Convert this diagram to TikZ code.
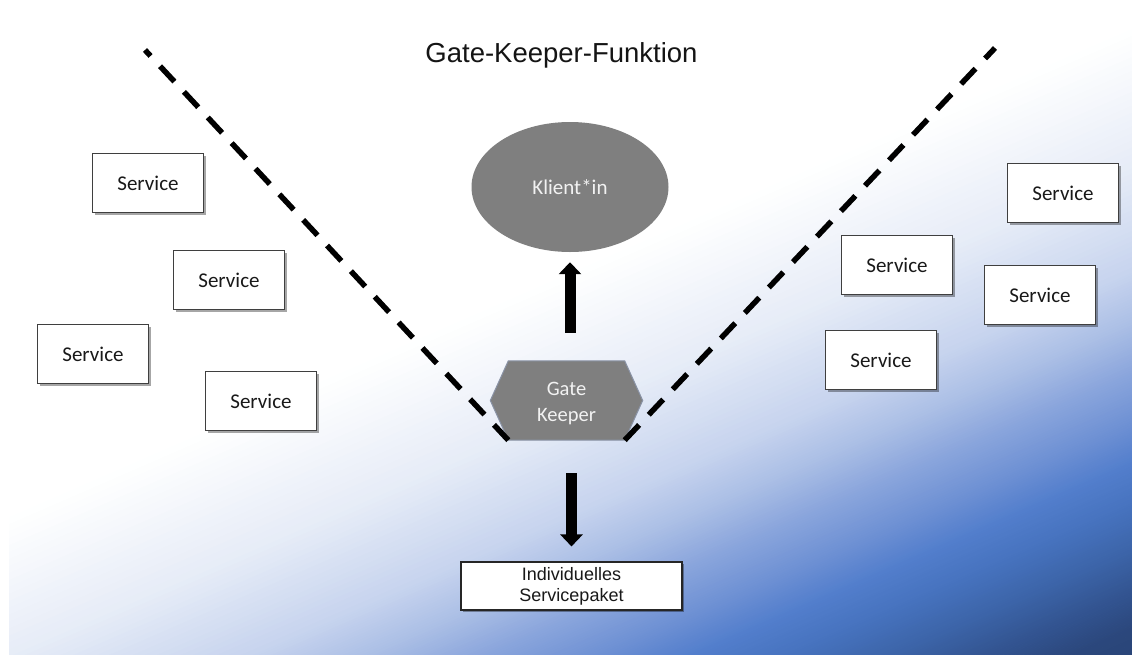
\documentclass[tikz,border=0pt]{standalone}
\usepackage{fontspec}
\newfontfamily\calibfont{Carlito}
\newfontfamily\arialfont{Liberation Sans}
\usetikzlibrary{arrows.meta,shapes.geometric,shadows,calc}
\pgfdeclarelayer{bg}
\pgfdeclarelayer{back}
\pgfsetlayers{bg,back,main}

% colour stops of the slide background (white -> blue)
\definecolor{g1}{HTML}{FFFFFF}
\definecolor{g2}{HTML}{E6ECF7}
\definecolor{g3}{HTML}{C6D3EE}
\definecolor{g4}{HTML}{AABEE5}
\definecolor{g5}{HTML}{8AA5DC}
\definecolor{g6}{HTML}{6F91D4}
\definecolor{g7}{HTML}{527ECC}
\definecolor{g8}{HTML}{4672BE}
\definecolor{g9}{HTML}{3C64A8}
\definecolor{g10}{HTML}{32538F}
\definecolor{g11}{HTML}{2B477C}
\definecolor{g12}{HTML}{25406F}
\definecolor{shapegray}{HTML}{7F7F7F}
\definecolor{hexborder}{HTML}{8A93A6}
\definecolor{boxborder}{HTML}{3F3F3F}
\definecolor{lighttext}{HTML}{F2F2F2}

\begin{document}
\begin{tikzpicture}[x=1pt,y=-1pt,
  svcbox/.style={draw=boxborder, line width=1.1pt, fill=white,
    minimum width=111pt, minimum height=59pt, inner sep=0pt,
    font=\calibfont\fontsize{21}{25}\selectfont, text=black!90,
    drop shadow={shadow xshift=2pt, shadow yshift=-2pt, opacity=0.35, fill=black}},
  pkgbox/.style={draw=black!85, line width=1.1pt, fill=white,
    minimum width=221pt, minimum height=48pt, inner sep=0pt, align=center,
    font=\arialfont\fontsize{18}{21}\selectfont, text=black!90,
    drop shadow={shadow xshift=2pt, shadow yshift=-2pt, opacity=0.35, fill=black}},
  clientshape/.style={ellipse, fill=shapegray, minimum width=197pt,
    minimum height=130pt, inner sep=0pt, text=lighttext,
    font=\calibfont\fontsize{21}{25}\selectfont},
  gatebox/.style={minimum width=116pt, minimum height=79pt, inner sep=0pt,
    align=center, text=lighttext, text height=45.5pt,
    font=\calibfont\fontsize{20.5}{26}\selectfont},
  titletext/.style={font=\arialfont\fontsize{27.5}{33}\selectfont, text=black!92},
  gateline/.style={line width=5.5pt, dash pattern=on 21pt off 14pt, black},
  blockarrow/.style={line width=11pt, -{Triangle[width=22pt,length=12pt]}, black}
]
\useasboundingbox (0,0) rectangle (1132,654);

% background panel with a diagonal white-to-blue gradient
\begin{pgfonlayer}{bg}
  \fill[white] (0,0) rectangle (1132,654);
  \begin{scope}
    \clip (9,10) rectangle (1132,654);
    \foreach \ta/\tb/\ca/\cb in {1200/1520/g1/g2, 1520/1760/g2/g3, 1760/1880/g3/g4,
        1880/1990/g4/g5, 1990/2100/g5/g6, 2100/2200/g6/g7, 2200/2300/g7/g8,
        2300/2400/g8/g9, 2400/2500/g9/g10, 2500/2580/g10/g11, 2580/2800/g11/g12} {
      \foreach \k in {0,...,19} {
        \pgfmathsetmacro\sa{\ta+(\tb-\ta)*\k/20}
        \pgfmathsetmacro\sb{\ta+(\tb-\ta)*(\k+1)/20+1.5}
        \pgfmathtruncatemacro\p{5*\k+2}
        \fill[\cb!\p!\ca] (\sa,0) -- (\sb,0) -- (\sb-1518,660) -- (\sa-1518,660) -- cycle;
      }
    }
  \end{scope}
\end{pgfonlayer}

% title
\node[titletext, anchor=base] (ttl) at (561.5,62) {Gate-Keeper-Funktion};

% client and gate keeper
\node[clientshape] (kl) at (570,187) {Klient*in};
\node[gatebox] (gk) at (566.5,400.5) {Gate\\Keeper};
\begin{pgfonlayer}{back}
  \filldraw[fill=shapegray, draw=hexborder, line width=1pt]
    (gk.north west) -- (gk.north east) -- ($(gk.east)+(18,0)$) --
    (gk.south east) -- (gk.south west) -- ($(gk.west)+(-18,0)$) -- cycle;
\end{pgfonlayer}

% service package
\node[pkgbox] (pkg) at (571.5,586) {Individuelles\\Servicepaket};

% services on the left
\node[svcbox] (s1) at (148,183) {Service};
\node[svcbox] (s2) at (229,280) {Service};
\node[svcbox] (s3) at (93,354) {Service};
\node[svcbox] (s4) at (261,401) {Service};

% services on the right
\node[svcbox] (r1) at (1063,193) {Service};
\node[svcbox] (r2) at (897,265) {Service};
\node[svcbox] (r3) at (1040,295) {Service};
\node[svcbox] (r4) at (881,360) {Service};

% the funnel of the gate keeper
\coordinate (ltop) at (145,50);
\coordinate (rtop) at (995,48);
\draw[gateline] (gk.south west) -- (ltop);
\draw[gateline] (gk.south east) -- (rtop);

% arrows
\draw[blockarrow, shorten <=28pt, shorten >=10pt] (kl.south |- gk.north) -- (kl.south);
\draw[blockarrow, shorten <=33pt, shorten >=15pt] (pkg.north |- gk.south) -- (pkg.north);
\end{tikzpicture}
\end{document}
